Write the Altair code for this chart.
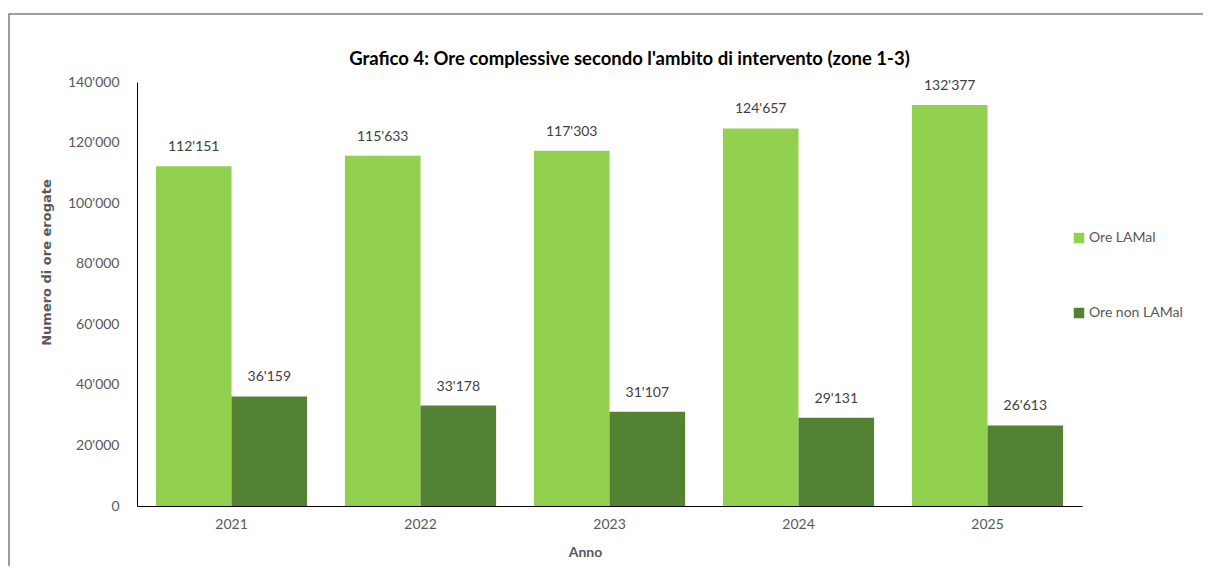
import altair as alt
import pandas as pd

years = ["2021", "2022", "2023", "2024", "2025"]
series = ["Ore LAMal", "Ore non LAMal"]
ore_lamal = [112151, 115633, 117303, 124657, 132377]
ore_non_lamal = [36159, 33178, 31107, 29131, 26613]
colors = ["#92D050", "#548235"]

rows = []
for i, y in enumerate(years):
    rows.append({"Anno": y, "Serie": series[0], "Valore": ore_lamal[i]})
    rows.append({"Anno": y, "Serie": series[1], "Valore": ore_non_lamal[i]})
df = pd.DataFrame(rows)

FONT = "Lato"
GRAY = "#595959"

x = alt.X("Anno:N", title="Anno", sort=years,
          scale=alt.Scale(paddingInner=0.2, paddingOuter=0.1),
          axis=alt.Axis(labelAngle=0, ticks=False, domainColor="#000000",
                        labelColor=GRAY, labelFontSize=14, labelFont=FONT,
                        labelPadding=11, titleFont=FONT, titleFontSize=14,
                        titleFontWeight="bold", titleColor=GRAY, titlePadding=14,
                        titleX=448))
xo = alt.XOffset("Serie:N", sort=series, scale=alt.Scale(paddingInner=0, paddingOuter=0))
y = alt.Y("Valore:Q", title="Numero di ore erogate",
          scale=alt.Scale(domain=[0, 140000]),
          axis=alt.Axis(values=list(range(0, 140001, 20000)), format=",d", grid=False,
                        ticks=False, domainColor="#000000", labelColor=GRAY,
                        labelFontSize=14, labelFont=FONT, labelPadding=18,
                        titleFont="DejaVu Sans", titleFontSize=13, titleFontWeight="bold",
                        titleColor=GRAY, titlePadding=14, titleY=180))

color = alt.Color("Serie:N", sort=series,
                  scale=alt.Scale(domain=series, range=colors),
                  legend=alt.Legend(title=None, orient="none", legendX=935, legendY=149,
                                    symbolType="square", symbolSize=110, symbolStrokeWidth=0,
                                    labelFont=FONT, labelFontSize=14, labelColor=GRAY,
                                    rowPadding=61, labelOffset=3))

base = alt.Chart(df)
frame = alt.Chart(pd.DataFrame({"k": [0]})).mark_rect(
    fill=None, stroke="#7f7f7f", strokeWidth=1.5).encode(
    x=alt.value(-128), x2=alt.value(1080), y=alt.value(-68), y2=alt.value(520))
bars = base.mark_bar(strokeWidth=0).encode(x=x, xOffset=xo, y=y, color=color)
labels = base.mark_text(baseline="bottom", dy=-12, font=FONT, fontSize=14, color="#404040").encode(
    x=x, xOffset=xo, y=y, text=alt.Text("Valore:Q", format=",d"))

chart = alt.layer(frame, bars, labels).properties(
    width=945, height=424,
    background="white",
    title=alt.Title("Grafico 4: Ore complessive secondo l'ambito di intervento (zone 1-3)",
                    font=FONT, fontSize=18.5, fontWeight="bold", color="#000000",
                    offset=-55, dx=20),
    autosize=alt.AutoSizeParams(type="none"),
    padding={"left": 129, "top": 74, "right": 121, "bottom": 60},
).configure_view(strokeWidth=0)

chart.save("out.html", embed_options={
    "renderer": "svg", "actions": False,
    "formatLocale": {"decimal": ".", "thousands": "'", "grouping": [3], "currency": ["", ""]}
})
